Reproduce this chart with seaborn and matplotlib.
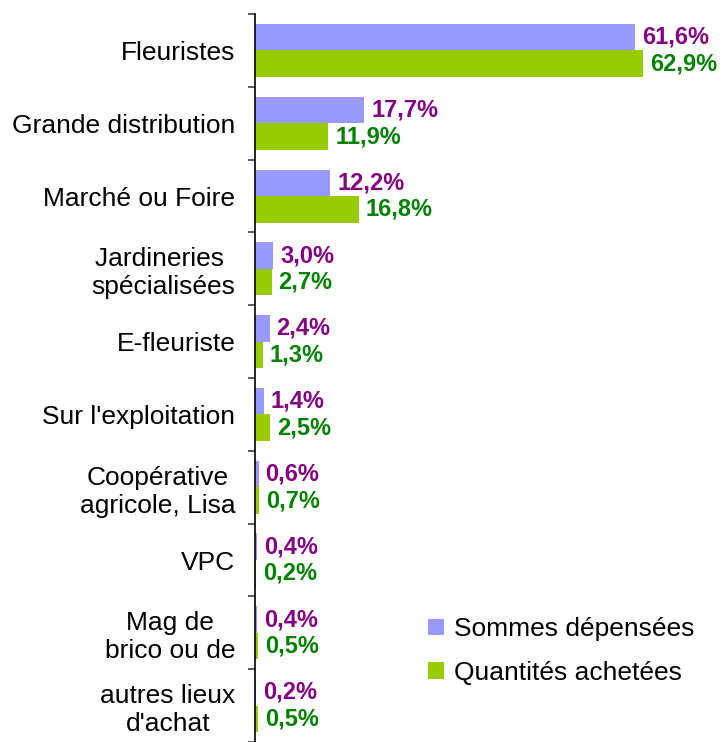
import matplotlib.pyplot as plt
import numpy as np
import pandas as pd
import seaborn as sns
from matplotlib.ticker import FixedLocator

sns.set_style('white')
plt.rcParams['font.family'] = ['Liberation Sans', 'DejaVu Sans']
plt.rcParams['text.color'] = 'black'
plt.rcParams['ytick.labelcolor'] = 'black'

# données du graphique
lieux = ['Fleuristes', 'Grande distribution', 'Marché ou Foire',
         'Jardineries \nspécialisées', 'E-fleuriste', "Sur l'exploitation",
         'Coopérative\nagricole, Lisa', 'VPC', 'Mag de\nbrico ou de',
         "autres lieux\nd'achat"]
sommes = [61.6, 17.7, 12.2, 3.0, 2.4, 1.4, 0.6, 0.4, 0.4, 0.2]
quantites = [62.9, 11.9, 16.8, 2.7, 1.3, 2.5, 0.7, 0.2, 0.5, 0.5]
series = ['Sommes dépensées', 'Quantités achetées']
couleurs = ['#9999FF', '#99CC00']
couleurs_txt = ['#800080', '#008000']

df = pd.DataFrame({'lieu': lieux * 2,
                   'valeur': sommes + quantites,
                   'serie': [series[0]] * len(lieux) + [series[1]] * len(lieux)})

fig = plt.figure(figsize=(7.22, 7.42), dpi=100)
ax = fig.add_axes([0.353, 0.0, 0.647, 0.981])
sns.barplot(data=df, y='lieu', x='valeur', hue='serie', orient='h',
            palette=couleurs, width=0.73, saturation=1, linewidth=0,
            ax=ax, legend=True)

for cont, col in zip(ax.containers, couleurs_txt):
    vals = [b.get_width() for b in cont]
    ax.bar_label(cont, labels=[f'{v:.1f}%'.replace('.', ',') for v in vals],
                 padding=5, color=col, fontsize=17, fontweight='bold')

ax.set_xlim(0, 75.7)
ax.set_ylim(len(lieux) - 0.5, -0.5)
ax.set_xlabel('')
ax.set_ylabel('')
ax.set_xticks([])
for s in ['top', 'right', 'bottom']:
    ax.spines[s].set_visible(False)
ax.spines['left'].set_color('black')
ax.spines['left'].set_linewidth(1.2)
ax.tick_params(axis='y', which='major', length=0, pad=14, labelsize=19,
               labelcolor='black')
for t in ax.get_yticklabels():
    t.set_multialignment('center')
ax.yaxis.set_minor_locator(FixedLocator(np.arange(-0.5, len(lieux), 1)))
ax.tick_params(axis='y', which='minor', length=5, width=1.2, color='#404040',
               direction='out', left=True)

leg = ax.legend(loc='upper left', bbox_to_anchor=(0.56, 0.2),
                bbox_transform=fig.transFigure, frameon=False, fontsize=19,
                handlelength=0.6, handleheight=0.6, handletextpad=0.4,
                labelspacing=0.75)
for t in leg.get_texts():
    t.set_color('black')

fig.savefig('out.png', dpi=100)
